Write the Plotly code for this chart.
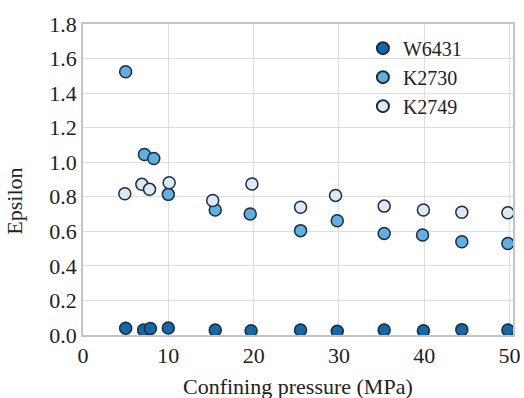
import plotly.graph_objects as go

# Data
w6431_x = [5.0, 7.1, 7.9, 10.0, 15.5, 19.7, 25.5, 29.8, 35.3, 39.9, 44.4, 49.8]
w6431_y = [0.039, 0.029, 0.038, 0.040, 0.029, 0.025, 0.029, 0.022, 0.029, 0.025, 0.031, 0.029]

k2730_x = [5.0, 7.2, 8.3, 10.0, 15.5, 19.6, 25.5, 29.8, 35.3, 39.8, 44.4, 49.8]
k2730_y = [1.524, 1.045, 1.022, 0.814, 0.723, 0.700, 0.604, 0.661, 0.588, 0.579, 0.540, 0.530]

k2749_x = [4.9, 6.9, 7.8, 10.1, 15.2, 19.8, 25.5, 29.6, 35.3, 39.9, 44.4, 49.8]
k2749_y = [0.818, 0.872, 0.843, 0.881, 0.778, 0.874, 0.739, 0.808, 0.746, 0.723, 0.710, 0.708]

x_ticks = [0, 10, 20, 30, 40, 50]
y_ticks = [0.0, 0.2, 0.4, 0.6, 0.8, 1.0, 1.2, 1.4, 1.6, 1.8]

x_title = "Confining pressure (MPa)"
y_title = "Epsilon"

series = [
    ("W6431", w6431_x, w6431_y, "#1268ab"),
    ("K2730", k2730_x, k2730_y, "#5eb0e2"),
    ("K2749", k2749_x, k2749_y, "#dbe9f6"),
]

FONT = "Liberation Serif"
FS = 22

fig = go.Figure()
for name, xs, ys, col in series:
    fig.add_trace(go.Scatter(
        x=xs, y=ys, mode="markers", name=name,
        marker=dict(size=12, color=col, line=dict(color="#1e2b38", width=1.5)),
    ))

fig.update_layout(
    width=524, height=398,
    margin=dict(l=83, r=11, t=24, b=63, autoexpand=False),
    paper_bgcolor="white", plot_bgcolor="white",
    font=dict(family=FONT, size=FS, color="#222222"),
    showlegend=True,
    legend=dict(
        x=0.651, y=0.985, xanchor="left", yanchor="top",
        bgcolor="rgba(255,255,255,0)", borderwidth=0,
        font=dict(family=FONT, size=20, color="#222222"),
        itemsizing="constant", tracegroupgap=0, itemwidth=30,
    ),
    annotations=[
        dict(text=x_title, xref="paper", yref="paper", x=0.5, y=-0.164,
             xanchor="center", yanchor="middle", showarrow=False,
             font=dict(family=FONT, size=FS, color="#222222")),
        dict(text=y_title, xref="paper", yref="paper", x=-0.158, y=0.429,
             xanchor="center", yanchor="middle", showarrow=False, textangle=-90,
             font=dict(family=FONT, size=FS, color="#222222")),
    ],
)
fig.update_xaxes(
    range=[0, 50.4], tickvals=x_ticks, ticktext=[str(v) for v in x_ticks],
    showgrid=True, gridcolor="#dddddd", gridwidth=1,
    showline=True, linecolor="#c4c4c4", linewidth=1.5, mirror=True,
    zeroline=False, ticks="", ticklen=0, automargin=False,
    tickfont=dict(family=FONT, size=FS),
)
fig.update_yaxes(
    range=[0, 1.8], tickvals=y_ticks, ticktext=[f"{v:.1f}" for v in y_ticks],
    showgrid=True, gridcolor="#dddddd", gridwidth=1,
    showline=True, linecolor="#c4c4c4", linewidth=1.5, mirror=True,
    zeroline=False, ticks="", ticklen=0, automargin=False,
    tickfont=dict(family=FONT, size=FS),
)

fig.write_html("out.html")
